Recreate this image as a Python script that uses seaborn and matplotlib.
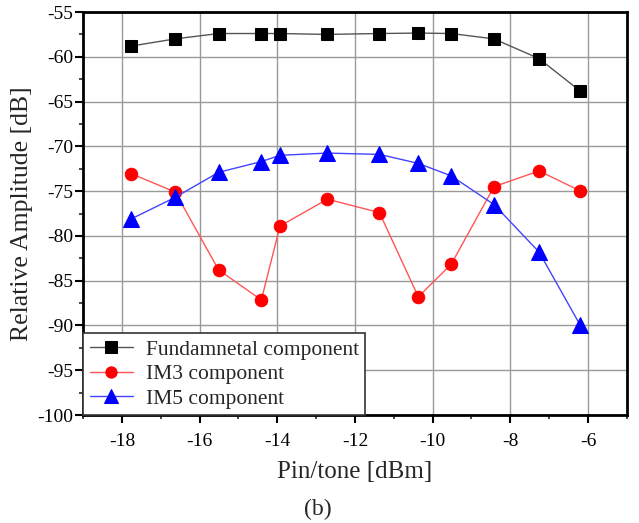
import matplotlib
matplotlib.use("Agg")
import matplotlib.pyplot as plt
import seaborn as sns
import pandas as pd
from matplotlib.ticker import MultipleLocator

pin = [-17.76, -16.63, -15.51, -14.41, -13.93, -12.71, -11.37, -10.37, -9.52, -8.42, -7.26, -6.21]
fundamental = [-58.8, -58.0, -57.4, -57.4, -57.4, -57.5, -57.4, -57.35, -57.4, -58.0, -60.2, -63.8]
im3 = [-73.05, -75.1, -83.8, -87.15, -78.9, -75.9, -77.4, -86.8, -83.15, -74.5, -72.75, -74.95]
im5 = [-78.1, -75.7, -72.9, -71.7, -71.0, -70.75, -70.9, -71.9, -73.3, -76.5, -81.8, -89.9]
labels = ["Fundamnetal component", "IM3 component", "IM5 component"]

sns.set_theme(style="white")
plt.rcParams['font.family'] = ['Liberation Serif', 'DejaVu Serif']
plt.rcParams['axes.unicode_minus'] = False

fig = plt.figure(figsize=(6.39, 5.23), dpi=100)
ax = fig.add_axes([0.130, 0.2065, 0.851, 0.7705])

styles = [
    (fundamental, labels[0], "#555555", "black", "s", 9),
    (im3, labels[1], "#ff5555", "red", "o", 9),
    (im5, labels[2], "#4444ff", "blue", "^", 11),
]
for vals, lab, lc, mc, mk, ms in styles:
    df = pd.DataFrame({"x": pin, "y": vals})
    sns.lineplot(data=df, x="x", y="y", ax=ax, color=lc, linewidth=1.0,
                 marker=mk, markersize=ms, markerfacecolor=mc,
                 markeredgecolor=mc, label=lab, zorder=3)

ax.set_xlim(-19, -5)
ax.set_ylim(-100, -55)
ax.xaxis.set_major_locator(MultipleLocator(2))
ax.xaxis.set_minor_locator(MultipleLocator(1))
ax.yaxis.set_major_locator(MultipleLocator(5))
ax.yaxis.set_minor_locator(MultipleLocator(2.5))
ax.grid(True, which="major", color="#999999", linewidth=1.0)
ax.tick_params(axis="both", which="major", direction="out", length=6, width=1.5,
               labelsize=14, colors="black", bottom=True, left=True)
ax.tick_params(axis="y", which="major", pad=1)
ax.tick_params(axis="x", which="major", pad=7)
ax.tick_params(axis="both", which="minor", direction="out", length=3, width=1.2,
               bottom=True, left=True)
for s in ax.spines.values():
    s.set_color("black")
    s.set_linewidth(2.0)

ax.set_xlabel("Pin/tone [dBm]", fontsize=18, labelpad=8)
ax.set_ylabel("Relative Amplitude [dB]", fontsize=18.5, labelpad=3)

leg = ax.legend(loc="lower left", bbox_to_anchor=(0.0, 0.0), fontsize=15.5,
                frameon=True, fancybox=False, borderaxespad=0.0,
                handlelength=2.0, borderpad=0.3, labelspacing=0.2,
                handletextpad=0.6, markerscale=0.9)
leg.get_frame().set_edgecolor("#333333")
leg.get_frame().set_linewidth(1.2)
leg.get_frame().set_alpha(1.0)

fig.text(0.497, 0.025, "(b)", fontsize=17, ha="center", va="center")

fig.savefig("out.png", dpi=100)
